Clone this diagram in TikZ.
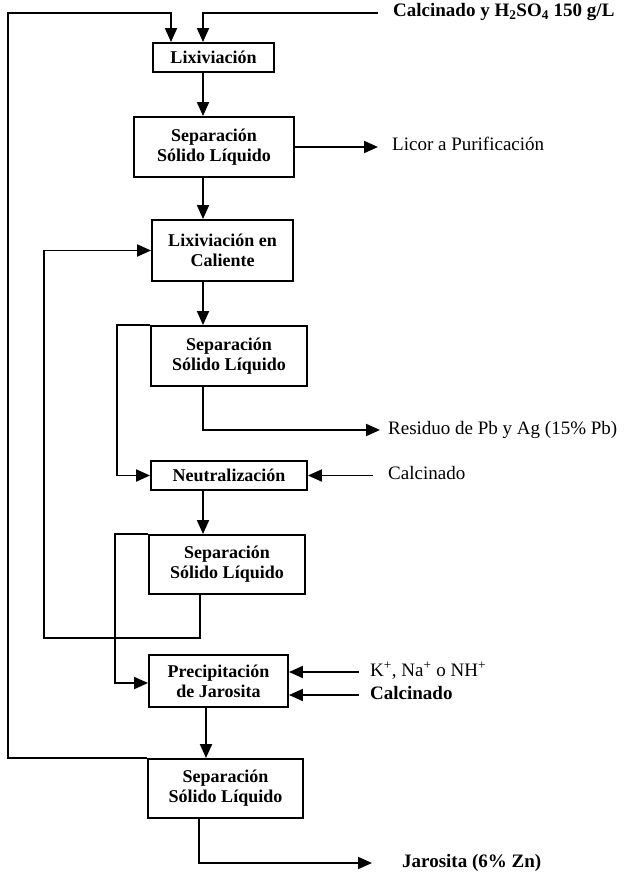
\documentclass[tikz,border=0pt]{standalone}
\usepackage{fontspec}
\setmainfont{Liberation Serif}
\usetikzlibrary{arrows.meta}
\begin{document}
\begin{tikzpicture}[x=1pt,y=-1pt,
  flow/.style={line width=1.9pt},
  arr/.style={flow,-{Triangle[length=14pt,width=12pt]}},
  unit/.style={draw,line width=1.9pt,inner sep=0pt,align=center,
    font=\fontsize{18}{20}\selectfont\bfseries},
  lbl/.style={anchor=west,inner sep=0pt,text height=12pt,text depth=4pt,
    font=\fontsize{19}{21}\selectfont},
  blbl/.style={lbl,font=\fontsize{19}{21}\selectfont\bfseries}]
\useasboundingbox (0,0) rectangle (630,874);

% process units
\node[unit,minimum width=121pt,minimum height=29pt] (lix)  at (213.5,57.5) {Lixiviación};
\node[unit,minimum width=160pt,minimum height=60pt] (sep1) at (214,147) {Separación\\Sólido Líquido};
\node[unit,minimum width=141pt,minimum height=61pt] (lixc) at (222.5,250.5) {Lixiviación en\\Caliente};
\node[unit,minimum width=156pt,minimum height=60pt] (sep2) at (229,356) {Separación\\Sólido Líquido};
\node[unit,minimum width=156pt,minimum height=29pt] (neut) at (229,475.5) {Neutralización};
\node[unit,minimum width=156pt,minimum height=59pt] (sep3) at (227,564.5) {Separación\\Sólido Líquido};
\node[unit,minimum width=139pt,minimum height=52pt] (prec) at (218.5,681) {Precipitación\\de Jarosita};
\node[unit,minimum width=155pt,minimum height=59pt] (sep4) at (225.5,788.5) {Separación\\Sólido Líquido};

% stream labels
\node[blbl] (tfeed) at (393,13)  {Calcinado y H\textsubscript{2}SO\textsubscript{4} 150 g/L};
\node[lbl]  (tlic)  at (392,147) {Licor a Purificación};
\node[lbl]  (tres)  at (388,430) {Residuo de Pb y Ag (15\% Pb)};
\node[lbl]  (tcal1) at (388,475.5) {Calcinado};
\node[lbl]  (tion)  at (370,672) {K\textsuperscript{+}, Na\textsuperscript{+} o NH\textsuperscript{+}};
\node[blbl] (tcal2) at (370,695) {Calcinado};
\node[blbl] (tjar)  at (402,863) {Jarosita (6\% Zn)};

% guide coordinates for the stream lines
\coordinate (spine)  at (203,0);
\coordinate (spineB) at (206,0);
\coordinate (spineC) at (200,0);
\coordinate (spineD) at (199,0);
\coordinate (recyIn) at (171,0);
\coordinate (railL)  at (8,13);
\coordinate (railM)  at (44,0);
\coordinate (railN1) at (117,0);
\coordinate (railN2) at (115,0);
\coordinate (loopB)  at (0,638);
\coordinate (precIn) at (0,683);
\coordinate (feed)   at (378,13);
\coordinate (licEnd) at (378,147);
\coordinate (resEnd) at (380,430);
\coordinate (calIn)  at (373,475.5);
\coordinate (ionIn)  at (359,672);
\coordinate (cal2In) at (359,695);
\coordinate (jarEnd) at (372,863);

% main line
\draw[arr] (feed) -| (lix.north -| spine);
\draw[arr] (lix.south -| spine) -- (sep1.north -| spine);
\draw[arr] (sep1.east) -- (licEnd);
\draw[arr] (sep1.south -| spine) -- (lixc.north -| spine);
\draw[arr] (lixc.south -| spine) -- (sep2.north -| spine);
\draw[arr] (sep2.south -| spine) |- (resEnd);
\draw[arr] (sep2.north west) -| (railN1 |- neut.west) -- (neut.west);
\draw[arr] (calIn) -- (neut.east);
\draw[arr] (neut.south -| spine) -- (sep3.north -| spine);
\draw[arr] (sep3.north west) -| (railN2 |- precIn) -- (prec.west |- precIn);
\draw[arr] (sep3.south -| spineC) -- (spineC |- loopB) -| (railM |- lixc.west) -- (lixc.west);
\draw[arr] (ionIn) -- (prec.east |- ionIn);
\draw[arr] (cal2In) -- (prec.east |- cal2In);
\draw[arr] (prec.south -| spineB) -- (sep4.north -| spineB);
\draw[arr] (sep4.south -| spineD) |- (jarEnd);
% recycle to the first leach
\draw[arr] (sep4.north west) -| (railL) -| (lix.north -| recyIn);
\end{tikzpicture}
\end{document}
